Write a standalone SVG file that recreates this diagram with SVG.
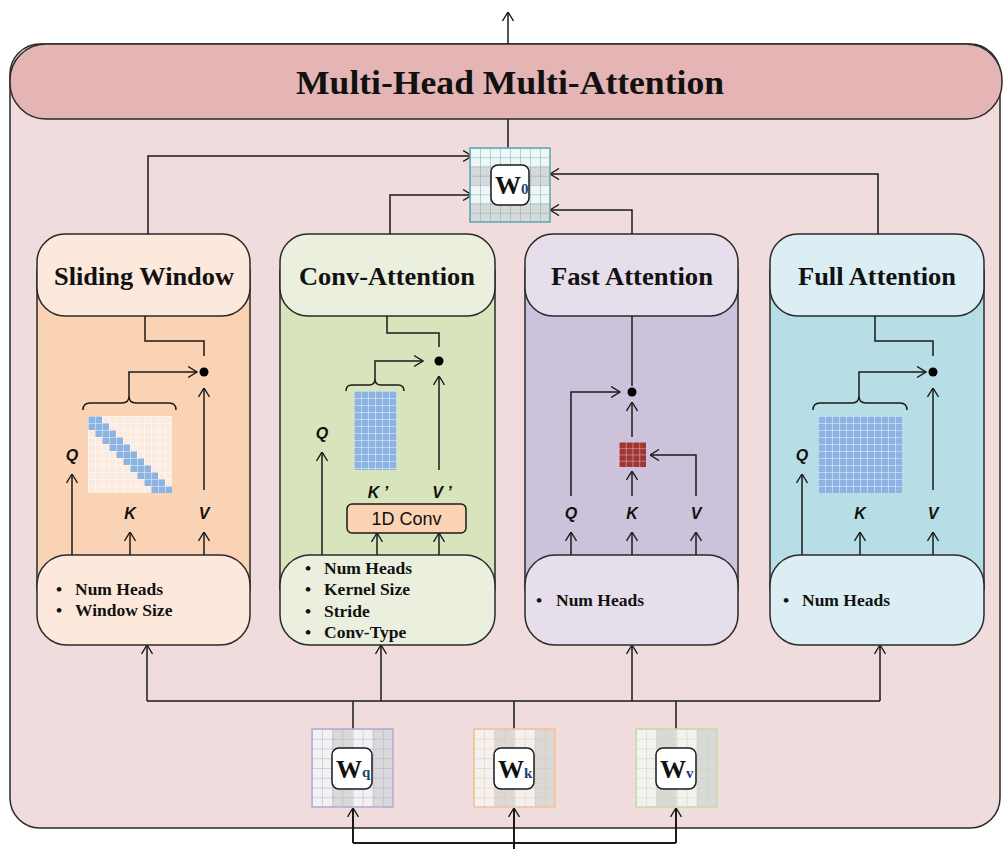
<svg xmlns="http://www.w3.org/2000/svg" width="1003" height="849" viewBox="0 0 1003 849">
<style>
.ln{fill:none;stroke:#1a1a1a;stroke-width:1.5}
.ar{fill:none;stroke:#1a1a1a;stroke-width:1.5;marker-end:url(#arr)}
.ar2{fill:none;stroke:#1a1a1a;stroke-width:2;marker-end:url(#arr)}
.box{stroke:#2a2a2a;stroke-width:1.5}
.ttl{font-family:"Liberation Serif",serif;font-weight:bold;font-size:25px;fill:#111;text-anchor:middle}
.bul{font-family:"Liberation Serif",serif;font-weight:bold;font-size:17.5px;fill:#111}
.qkv{font-family:"Liberation Sans",Arial,sans-serif;font-weight:bold;font-style:italic;font-size:16px;fill:#111;text-anchor:middle}
.wt{font-family:"Liberation Serif",serif;font-weight:bold;font-size:26px;fill:#111}
.ws{font-family:"Liberation Serif",serif;font-weight:bold;font-size:15px;fill:#1f3f6f}
.dot{fill:#000}
.blue{fill:#8db3e2}
</style>
<defs>
<marker id="arr" viewBox="0 0 10 12" refX="9.5" refY="6" markerWidth="10" markerHeight="12" markerUnits="userSpaceOnUse" orient="auto">
<path d="M0.5,0.5 L9.5,6 L0.5,11.5" fill="none" stroke="#1a1a1a" stroke-width="1.4"/>
</marker>
<pattern id="gw" patternUnits="userSpaceOnUse" width="7" height="7">
<path d="M0 0H7M0 0V7" stroke="#ffffff" stroke-width="1" fill="none" opacity="0.85"/>
</pattern>
<pattern id="gfast" patternUnits="userSpaceOnUse" width="6.75" height="6.25">
<path d="M0 0H6.75M0 0V6.25" stroke="#f0c8c8" stroke-width="1" fill="none"/>
</pattern>
<pattern id="gq" patternUnits="userSpaceOnUse" width="10.125" height="9.75">
<path d="M0 0H10.125M0 0V9.75" stroke="#b8a6d4" stroke-width="1" fill="none"/>
</pattern>
<pattern id="gk" patternUnits="userSpaceOnUse" width="10.125" height="9.75">
<path d="M0 0H10.125M0 0V9.75" stroke="#f6c192" stroke-width="1" fill="none"/>
</pattern>
<pattern id="gv" patternUnits="userSpaceOnUse" width="10.125" height="9.75">
<path d="M0 0H10.125M0 0V9.75" stroke="#c4dc9e" stroke-width="1" fill="none"/>
</pattern>
<pattern id="g0" patternUnits="userSpaceOnUse" width="10" height="9.25">
<path d="M0 0H10M0 0V9.25" stroke="#6ab0bd" stroke-width="1" fill="none"/>
</pattern>
</defs>

<g id="container">
<rect x="10" y="44" width="990" height="784" rx="30" fill="#f0dcdc" stroke="#2a2a2a" stroke-width="1.5"/>
</g>
<g id="header">
<rect x="10" y="44" width="992" height="75" rx="36" fill="#e5b5b6" stroke="#2a2a2a" stroke-width="1.5"/>
<text x="510" y="94" font-family="'Liberation Serif',serif" font-weight="bold" font-size="34" text-anchor="middle" fill="#111" textLength="428" lengthAdjust="spacingAndGlyphs">Multi-Head Multi-Attention</text>
</g>

<g id="connectors">
<line class="ar" x1="508" y1="44" x2="508" y2="12"/>
<line class="ln" x1="508" y1="119" x2="508" y2="148"/>
<polyline class="ar" points="148,234 148,156 472,156"/>
<polyline class="ar" points="390,234 390,195 472,195"/>
<polyline class="ar" points="632,234 632,210 550,210"/>
<polyline class="ar" points="878,234 878,174 550,174"/>
<line class="ln" x1="147" y1="701" x2="880" y2="701"/>
<line class="ar" x1="147" y1="701" x2="147" y2="645"/>
<line class="ar" x1="381" y1="701" x2="381" y2="645"/>
<line class="ar" x1="632" y1="701" x2="632" y2="645"/>
<line class="ar" x1="880" y1="701" x2="880" y2="645"/>
<line class="ln" x1="353" y1="701" x2="353" y2="729"/>
<line class="ln" x1="514" y1="701" x2="514" y2="729"/>
<line class="ln" x1="676" y1="701" x2="676" y2="729"/>
<line class="ln" style="stroke-width:2" x1="353" y1="843" x2="676" y2="843"/>
<line class="ar2" x1="353" y1="843" x2="353" y2="808"/>
<line class="ar2" x1="514" y1="849" x2="514" y2="808"/>
<line class="ar2" x1="676" y1="843" x2="676" y2="808"/>
</g>

<g id="w0">
<g transform="translate(470,148)">
<rect width="80" height="74" fill="#eef6f6"/>
<rect y="18.5" width="80" height="18.5" fill="#d8d8d8"/>
<rect y="55.5" width="80" height="18.5" fill="#d8d8d8"/>
<rect width="80" height="74" fill="url(#g0)"/>
<rect width="80" height="74" fill="none" stroke="#5aa6b4" stroke-width="1.5"/>
</g>
<rect x="491" y="165" width="38" height="40" rx="7" fill="#fff" stroke="#1a1a1a" stroke-width="1.5"/>
<text class="wt" x="495" y="194" font-size="24">W<tspan class="ws" font-size="14">0</tspan></text>
</g>

<g id="sliding-window">
<rect x="37" y="270" width="213" height="320" fill="#fad3b5" class="box"/>
<rect x="37" y="234" width="213" height="82" rx="28" fill="#fde9dc" class="box"/>
<text class="ttl" x="144" y="285" textLength="180" lengthAdjust="spacingAndGlyphs">Sliding Window</text>
<polyline class="ln" points="145,316 145,341 204,341 204,356"/>
<circle class="dot" cx="204" cy="372" r="4.5"/>
<path class="ln" d="M83,410 Q83,403 90,403 L122,403 Q129,403 129,396 Q129,403 136,403 L169,403 Q176,403 176,410"/>
<polyline class="ar" points="129,396 129,372 197,372"/>
<g transform="translate(88,416)">
<rect width="84" height="77" fill="#fcebe0"/>
<path class="blue" d="M0 0h14v7h-14zM0 7h21v7h-21zM7 14h21v7h-21zM14 21h21v7h-21zM21 28h21v7h-21zM28 35h21v7h-21zM35 42h21v7h-21zM42 49h21v7h-21zM49 56h21v7h-21zM56 63h21v7h-21zM63 70h21v7h-21z"/>
<rect width="84" height="77" fill="url(#gw)"/>
</g>
<text class="qkv" x="72" y="461">Q</text>
<line class="ar" x1="72" y1="555" x2="72" y2="474"/>
<text class="qkv" x="130" y="519">K</text>
<line class="ar" x1="130" y1="555" x2="130" y2="532"/>
<text class="qkv" x="204" y="519">V</text>
<line class="ar" x1="204" y1="555" x2="204" y2="532"/>
<line class="ar" x1="204" y1="490" x2="204" y2="388"/>
<rect x="37" y="555" width="213" height="90" rx="30" fill="#fde9dc" class="box"/>
<text class="bul" x="56" y="595">•</text><text class="bul" x="75" y="595">Num Heads</text>
<text class="bul" x="56" y="616">•</text><text class="bul" x="75" y="616">Window Size</text>
</g>

<g id="conv-attention">
<rect x="280" y="270" width="215" height="320" fill="#d8e4bc" class="box"/>
<rect x="280" y="234" width="215" height="82" rx="28" fill="#ebf0de" class="box"/>
<text class="ttl" x="387" y="285" textLength="176" lengthAdjust="spacingAndGlyphs">Conv-Attention</text>
<polyline class="ln" points="387,316 387,333 439,333 439,347"/>
<circle class="dot" cx="439" cy="361" r="4.5"/>
<path class="ln" d="M346,391 Q346,385 352,385 L369,385 Q375,385 375,379 Q375,385 381,385 L398,385 Q404,385 404,391"/>
<polyline class="ar" points="375,379 375,361 423,361"/>
<g transform="translate(354,391)">
<rect width="43" height="79" class="blue"/>
<rect width="43" height="79" fill="url(#gw)"/>
</g>
<text class="qkv" x="322" y="439">Q</text>
<line class="ar" x1="322" y1="555" x2="322" y2="452"/>
<text class="qkv" x="378" y="498">K ’</text>
<text class="qkv" x="442" y="498">V ’</text>
<line class="ar" x1="439" y1="470" x2="439" y2="376"/>
<rect x="347" y="504" width="119" height="29" rx="5" fill="#fad3b5" stroke="#1a1a1a" stroke-width="1.5"/>
<text x="406.5" y="525" font-family="'Liberation Sans',Arial,sans-serif" font-size="18" text-anchor="middle" fill="#111">1D Conv</text>
<line class="ar" x1="377" y1="555" x2="377" y2="533"/>
<line class="ar" x1="439" y1="555" x2="439" y2="533"/>
<rect x="280" y="555" width="215" height="90" rx="30" fill="#ebf0de" class="box"/>
<text class="bul" x="305" y="574">•</text><text class="bul" x="324" y="574">Num Heads</text>
<text class="bul" x="305" y="595">•</text><text class="bul" x="324" y="595">Kernel Size</text>
<text class="bul" x="305" y="617">•</text><text class="bul" x="324" y="617">Stride</text>
<text class="bul" x="305" y="638">•</text><text class="bul" x="324" y="638">Conv-Type</text>
</g>

<g id="fast-attention">
<rect x="525" y="270" width="213" height="320" fill="#cdc2dc" class="box"/>
<rect x="525" y="234" width="213" height="82" rx="28" fill="#e6dfeb" class="box"/>
<text class="ttl" x="632" y="285" textLength="162" lengthAdjust="spacingAndGlyphs">Fast Attention</text>
<line class="ln" x1="632" y1="316" x2="632" y2="386"/>
<circle class="dot" cx="632" cy="392" r="4.5"/>
<polyline class="ar" points="571,496 571,392 620,392"/>
<line class="ar" x1="632" y1="437" x2="632" y2="402"/>
<g transform="translate(619,442)">
<rect width="27" height="25" fill="#a03535"/>
<rect width="27" height="25" fill="url(#gfast)"/>
</g>
<line class="ar" x1="632" y1="496" x2="632" y2="471"/>
<polyline class="ar" points="696,496 696,455 650,455"/>
<text class="qkv" x="571" y="519">Q</text>
<text class="qkv" x="632" y="519">K</text>
<text class="qkv" x="696" y="519">V</text>
<line class="ar" x1="571" y1="555" x2="571" y2="532"/>
<line class="ar" x1="632" y1="555" x2="632" y2="532"/>
<line class="ar" x1="696" y1="555" x2="696" y2="532"/>
<rect x="525" y="555" width="213" height="90" rx="30" fill="#e6dfeb" class="box"/>
<text class="bul" x="536" y="606">•</text><text class="bul" x="556" y="606">Num Heads</text>
</g>

<g id="full-attention">
<rect x="770" y="270" width="214" height="320" fill="#b7dde6" class="box"/>
<rect x="770" y="234" width="214" height="82" rx="28" fill="#dbeef3" class="box"/>
<text class="ttl" x="877" y="285" textLength="158" lengthAdjust="spacingAndGlyphs">Full Attention</text>
<polyline class="ln" points="875,316 875,341 933,341 933,356"/>
<circle class="dot" cx="933" cy="372" r="4.5"/>
<path class="ln" d="M813,410 Q813,403 820,403 L852,403 Q859,403 859,396 Q859,403 866,403 L900,403 Q907,403 907,410"/>
<polyline class="ar" points="859,396 859,372 926,372"/>
<g transform="translate(818,416)">
<rect width="84" height="77" class="blue"/>
<rect width="84" height="77" fill="url(#gw)"/>
</g>
<text class="qkv" x="802" y="461">Q</text>
<line class="ar" x1="802" y1="555" x2="802" y2="474"/>
<text class="qkv" x="860" y="519">K</text>
<line class="ar" x1="860" y1="555" x2="860" y2="532"/>
<text class="qkv" x="933" y="519">V</text>
<line class="ar" x1="933" y1="555" x2="933" y2="532"/>
<line class="ar" x1="933" y1="490" x2="933" y2="388"/>
<rect x="770" y="555" width="214" height="90" rx="30" fill="#dbeef3" class="box"/>
<text class="bul" x="783" y="606">•</text><text class="bul" x="802" y="606">Num Heads</text>
</g>

<g id="wq">
<g transform="translate(312,729)">
<rect width="81" height="78" fill="#f2f2f2"/>
<rect x="20.25" width="20.25" height="78" fill="#d9d9d9"/>
<rect x="60.75" width="20.25" height="78" fill="#d9d9d9"/>
<rect width="81" height="78" fill="url(#gq)"/>
<rect width="81" height="78" fill="none" stroke="#b8a6d4" stroke-width="1.5"/>
</g>
<rect x="332" y="748" width="40" height="41" rx="7" fill="#fff" stroke="#1a1a1a" stroke-width="1.5"/>
<text class="wt" x="336" y="778">W<tspan class="ws" dy="-1">q</tspan></text>
</g>
<g id="wk">
<g transform="translate(474,729)">
<rect width="81" height="78" fill="#f2f2f2"/>
<rect x="20.25" width="20.25" height="78" fill="#d9d9d9"/>
<rect x="60.75" width="20.25" height="78" fill="#d9d9d9"/>
<rect width="81" height="78" fill="url(#gk)"/>
<rect width="81" height="78" fill="none" stroke="#f6c192" stroke-width="1.5"/>
</g>
<rect x="494" y="748" width="40" height="41" rx="7" fill="#fff" stroke="#1a1a1a" stroke-width="1.5"/>
<text class="wt" x="498" y="778">W<tspan class="ws">k</tspan></text>
</g>
<g id="wv">
<g transform="translate(636,729)">
<rect width="81" height="78" fill="#f2f2f2"/>
<rect x="20.25" width="20.25" height="78" fill="#d9d9d9"/>
<rect x="60.75" width="20.25" height="78" fill="#d9d9d9"/>
<rect width="81" height="78" fill="url(#gv)"/>
<rect width="81" height="78" fill="none" stroke="#c4dc9e" stroke-width="1.5"/>
</g>
<rect x="656" y="748" width="40" height="41" rx="7" fill="#fff" stroke="#1a1a1a" stroke-width="1.5"/>
<text class="wt" x="660" y="778">W<tspan class="ws">v</tspan></text>
</g>
</svg>
